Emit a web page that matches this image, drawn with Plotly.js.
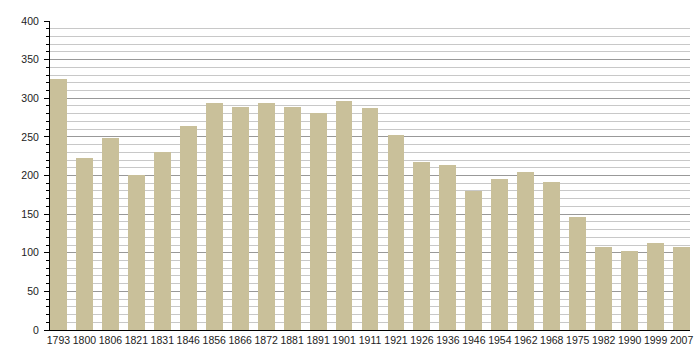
<!DOCTYPE html>
<html>
<head>
<meta charset="utf-8">
<script src="https://cdn.plot.ly/plotly-3.0.1.min.js"></script>
<style>html,body{margin:0;padding:0;background:#fff;}#chart{width:700px;height:360px;}</style>
</head>
<body>
<div id="chart"></div>
<script>
const years = ["1793","1800","1806","1821","1831","1846","1856","1866","1872","1881","1891","1901","1911","1921","1926","1936","1946","1954","1962","1968","1975","1982","1990","1999","2007"];
const population = [325, 223, 249, 201, 230, 264, 294, 289, 294, 289, 281, 296, 287, 252, 217, 214, 180, 196, 205, 192, 146, 107, 102, 112, 107];
const yTicks = [0, 50, 100, 150, 200, 250, 300, 350, 400];

const barWidth = 0.65;
const trace = {
  type: 'bar',
  x: years,
  y: population,
  width: barWidth,
  marker: {color: 'rgb(201,192,154)', line: {width: 0}},
  hoverinfo: 'x+y'
};

const layout = {
  width: 700, height: 360,
  margin: {l: 50, r: 10, t: 21, b: 30, pad: 0},
  paper_bgcolor: '#fff', plot_bgcolor: '#fff',
  font: {family: '"Liberation Sans", Arial, sans-serif', size: 10.5, color: '#222'},
  showlegend: false,
  bargap: 0,
  xaxis: {
    type: 'category',
    range: [-barWidth / 2, years.length - 1 + barWidth / 2],
    showline: true, linecolor: '#000', linewidth: 1,
    ticks: '', showgrid: false, zeroline: false,
    tickfont: {size: 10.5, color: '#222'},
    fixedrange: true
  },
  yaxis: {
    range: [0, 400],
    tickvals: yTicks,
    ticktext: yTicks.map(String),
    ticks: 'outside', ticklen: 5, tickcolor: '#000', tickwidth: 1,
    showline: true, linecolor: '#000', linewidth: 1,
    showgrid: true, gridcolor: '#999', gridwidth: 1,
    zeroline: false,
    ticklabelstandoff: 3,
    tickfont: {size: 10.5, color: '#222'},
    minor: {dtick: 10, ticks: 'outside', ticklen: 3, tickcolor: '#000', showgrid: true, gridcolor: '#c8c8c8', gridwidth: 1},
    fixedrange: true
  }
};

Plotly.newPlot('chart', [trace], layout, {displayModeBar: false, staticPlot: true});
</script>
</body>
</html>
